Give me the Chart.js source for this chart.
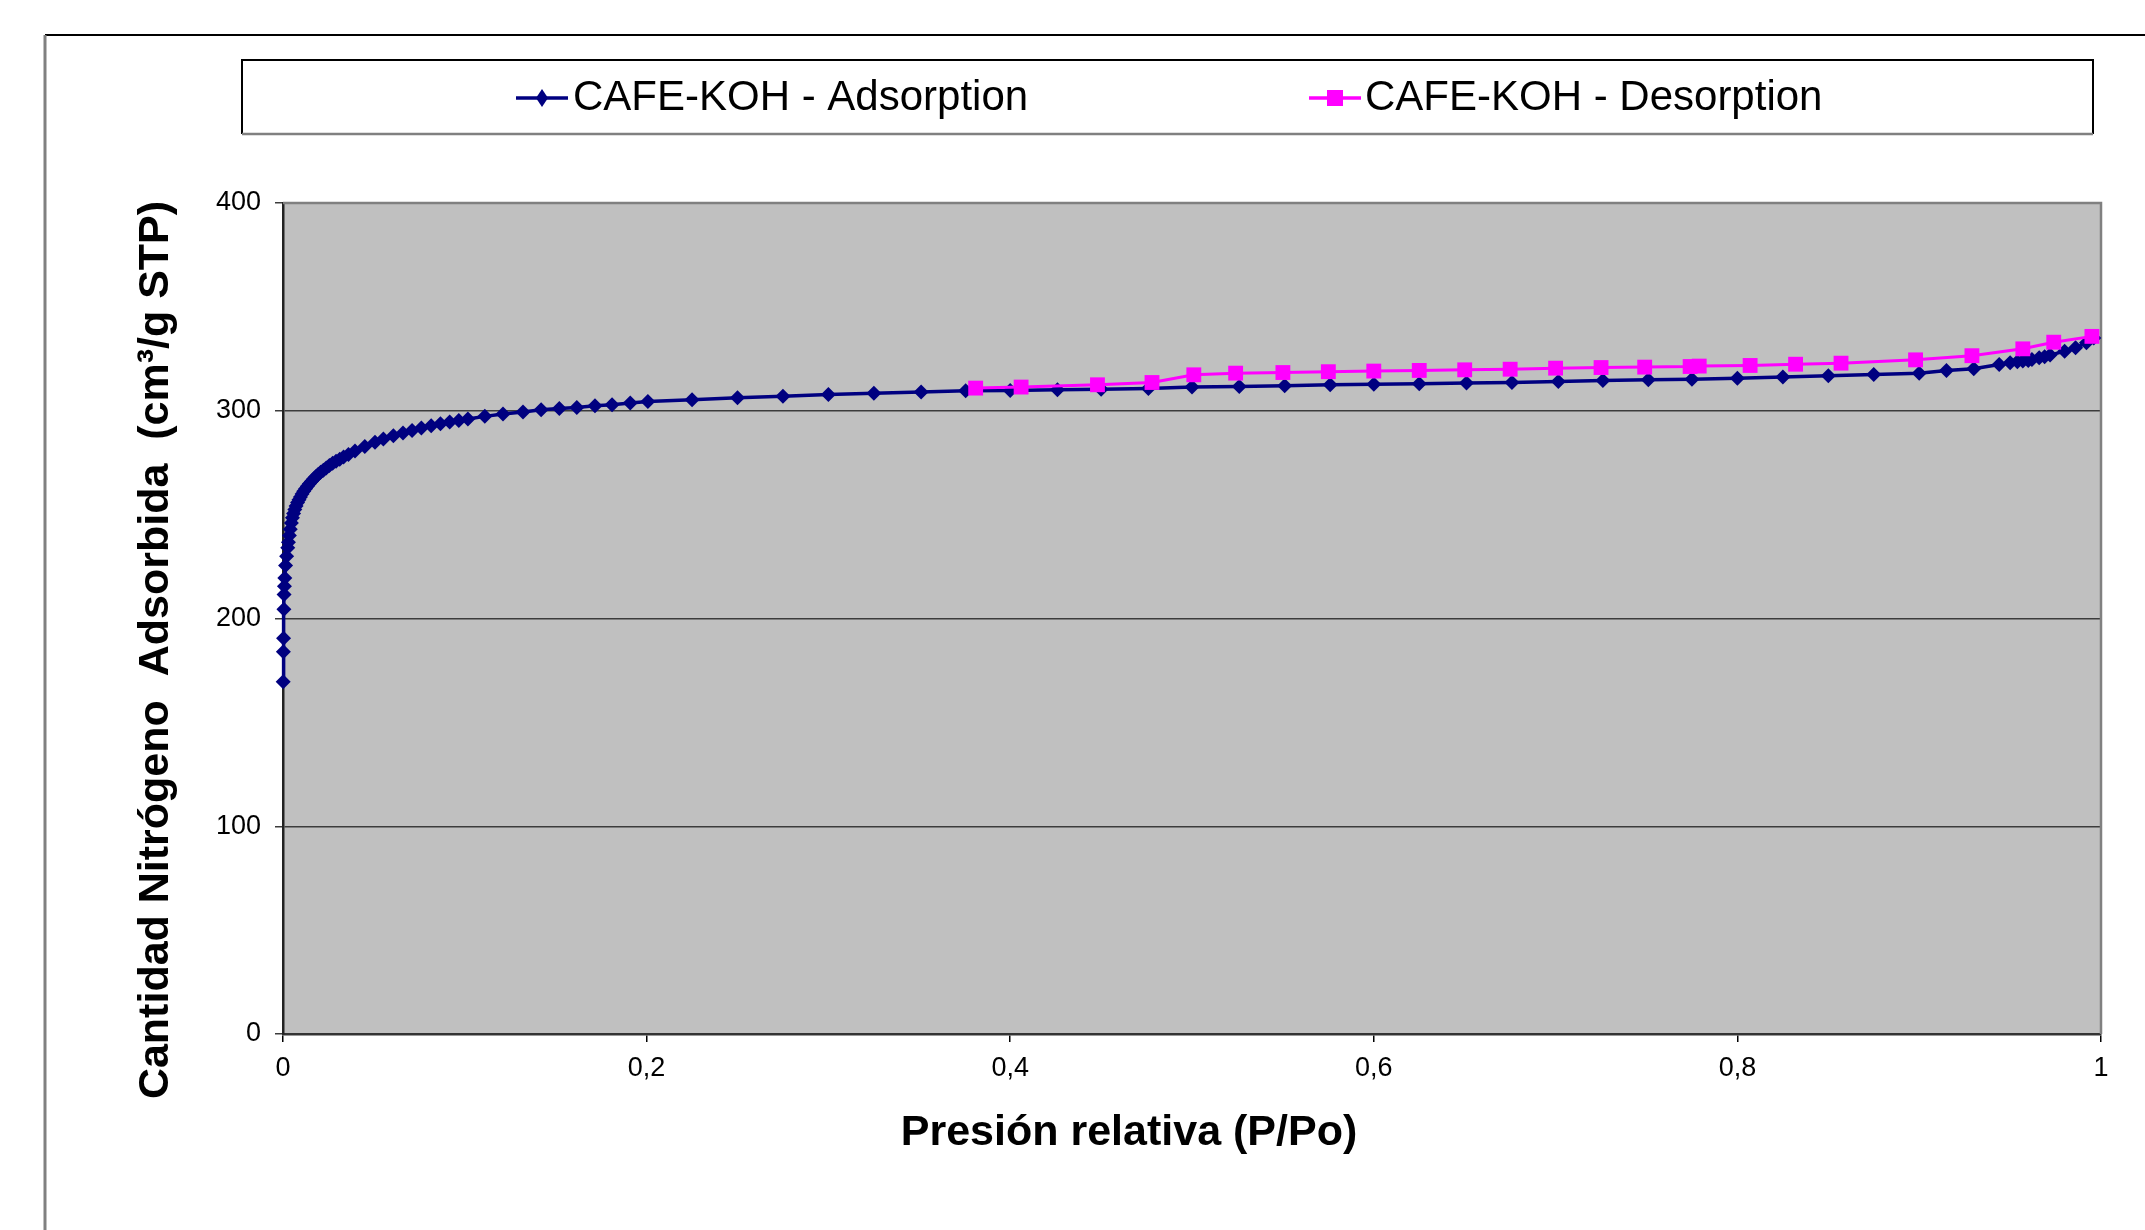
<!DOCTYPE html>
<html>
<head>
<meta charset="utf-8">
<script src="https://cdn.jsdelivr.net/npm/chart.js@4.4.0/dist/chart.umd.min.js"></script>
<style>
  html, body { margin: 0; padding: 0; background: #fff; }
  canvas { display: block; }
</style>
</head>
<body>
<canvas id="isoterma" width="2145" height="1230" style="width:2145px;height:1230px"></canvas>
<script>
// Adsorption branch (P/Po, cm3/g STP)
var adsP = [0.0001, 0.0002, 0.0003, 0.0005, 0.0006, 0.0008, 0.001, 0.0014, 0.002, 0.0026,
    0.003, 0.0035, 0.004, 0.0046, 0.0052, 0.0058, 0.0065, 0.0072, 0.008, 0.0088,
    0.0096, 0.0105, 0.0114, 0.0124, 0.0134, 0.0145, 0.0156, 0.0168, 0.018, 0.0193,
    0.0207, 0.0222, 0.0238, 0.0255, 0.0273, 0.0292, 0.0312, 0.0333, 0.036, 0.0396,
    0.045, 0.0506, 0.0552, 0.0607, 0.066, 0.071, 0.0761, 0.0815, 0.0866, 0.0917,
    0.0967, 0.1017, 0.111, 0.121, 0.132, 0.142, 0.152, 0.1616, 0.1716, 0.181,
    0.191, 0.2007, 0.225, 0.25, 0.275, 0.3, 0.325, 0.351, 0.3755, 0.4,
    0.426, 0.45, 0.476, 0.5, 0.526, 0.551, 0.576, 0.6, 0.625, 0.651,
    0.676, 0.7015, 0.726, 0.751, 0.775, 0.8, 0.825, 0.85, 0.875, 0.9,
    0.915, 0.93, 0.944, 0.95, 0.954, 0.957, 0.96, 0.962, 0.966, 0.969,
    0.972, 0.98, 0.986, 0.992, 0.996];
var adsV = [169.5, 184, 190.5, 204.5, 211.5, 215.5, 219.5, 225.5, 230, 234,
    236.7, 240, 243, 246, 248.5, 250.5, 252.5, 254.2, 255.8, 257.2,
    258.5, 259.9, 261.2, 262.5, 263.7, 264.9, 266, 267.1, 268.2, 269.3,
    270.4, 271.4, 272.5, 273.6, 274.7, 275.7, 276.7, 277.7, 279, 280.6,
    282.8, 284.8, 286.4, 288, 289.3, 290.5, 291.7, 292.8, 293.8, 294.6,
    295.3, 296, 297.3, 298.4, 299.4, 300.5, 301.1, 301.6, 302.4, 302.9,
    303.7, 304.5, 305.3, 306.3, 307, 307.8, 308.4, 309, 309.6, 309.8,
    310.1, 310.4, 310.7, 311.4, 311.7, 312, 312.5, 312.8, 313, 313.3,
    313.6, 314.1, 314.6, 314.9, 315.2, 315.7, 316.2, 316.8, 317.5, 318.1,
    319.4, 320.2, 322.3, 323.1, 323.6, 323.9, 324.2, 324.7, 325.5, 326,
    326.8, 328.7, 330.3, 332.7, 335];

// Desorption branch
var desP = [0.995, 0.974, 0.957, 0.929, 0.898, 0.857, 0.832, 0.807, 0.779, 0.774,
    0.749, 0.725, 0.7, 0.675, 0.65, 0.625, 0.6, 0.575, 0.55, 0.524,
    0.501, 0.478, 0.448, 0.406, 0.381];
var desV = [335.8, 333, 329.8, 326.5, 324.5, 322.9, 322.4, 321.8, 321.5, 321.3,
    321, 320.8, 320.5, 320, 319.7, 319.4, 319.1, 318.8, 318.4, 318.1,
    317.3, 313.6, 312.5, 311.4, 310.9];

var seriesNames = ['CAFE-KOH - Adsorption', 'CAFE-KOH - Desorption'];
var xTickVals = [0, 0.2, 0.4, 0.6, 0.8, 1];
var xTickLabels = ['0', '0,2', '0,4', '0,6', '0,8', '1'];
var yTickVals = [0, 100, 200, 300, 400];
var yTickLabels = ['0', '100', '200', '300', '400'];
var xTitle = 'Presión relativa (P/Po)';
var yTitle = 'Cantidad Nitrógeno  Adsorbida  (cm³/g STP)';

var NAVY = '#000080';
var MAGENTA = '#ff00ff';

function toPoints(xs, ys) {
    return xs.map(function (x, i) { return { x: x, y: ys[i] }; });
}

Chart.defaults.font.family = '"Liberation Sans", Arial, sans-serif';
Chart.defaults.color = '#000';

var decor = {
    id: 'decor',
    beforeDraw: function (chart) {
        var ctx = chart.ctx, a = chart.chartArea;
        ctx.save();
        ctx.fillStyle = '#fff';
        ctx.fillRect(0, 0, chart.width, chart.height);
        ctx.fillStyle = '#c0c0c0';
        ctx.fillRect(a.left, a.top, a.right - a.left, a.bottom - a.top);
        ctx.restore();
    },
    beforeDatasetsDraw: function (chart) {
        var ctx = chart.ctx, a = chart.chartArea;
        ctx.save();
        // top + right plot border (grey)
        ctx.strokeStyle = '#808080';
        ctx.lineWidth = 2.5;
        ctx.beginPath();
        ctx.moveTo(a.left, a.top);
        ctx.lineTo(a.right, a.top);
        ctx.lineTo(a.right, a.bottom);
        ctx.stroke();
        ctx.restore();
    },
    afterDraw: function (chart) {
        var ctx = chart.ctx;
        ctx.save();
        // outer frame
        ctx.lineWidth = 2;
        ctx.strokeStyle = '#000';
        ctx.beginPath();
        ctx.moveTo(45, 35);
        ctx.lineTo(2145, 35);
        ctx.stroke();
        ctx.strokeStyle = '#808080';
        ctx.lineWidth = 3;
        ctx.beginPath();
        ctx.moveTo(45, 35);
        ctx.lineTo(45, 1230);
        ctx.stroke();

        // legend box
        ctx.lineWidth = 2;
        ctx.strokeStyle = '#000';
        ctx.beginPath();
        ctx.moveTo(242, 134);
        ctx.lineTo(242, 60);
        ctx.lineTo(2093, 60);
        ctx.lineTo(2093, 134);
        ctx.stroke();
        ctx.strokeStyle = '#808080';
        ctx.lineWidth = 2.5;
        ctx.beginPath();
        ctx.moveTo(242, 134);
        ctx.lineTo(2093, 134);
        ctx.stroke();

        // legend entries
        var ly = 98;
        ctx.lineWidth = 3.5;
        ctx.strokeStyle = NAVY;
        ctx.beginPath(); ctx.moveTo(516, ly); ctx.lineTo(568, ly); ctx.stroke();
        ctx.fillStyle = NAVY;
        ctx.beginPath();
        ctx.moveTo(542, ly - 9); ctx.lineTo(548, ly); ctx.lineTo(542, ly + 9); ctx.lineTo(536, ly);
        ctx.closePath(); ctx.fill();

        ctx.strokeStyle = MAGENTA;
        ctx.beginPath(); ctx.moveTo(1309, ly); ctx.lineTo(1361, ly); ctx.stroke();
        ctx.fillStyle = MAGENTA;
        ctx.fillRect(1327, ly - 8, 16, 16);

        ctx.fillStyle = '#000';
        ctx.font = '42px "Liberation Sans", Arial, sans-serif';
        ctx.textAlign = 'left';
        ctx.textBaseline = 'middle';
        ctx.fillText(seriesNames[0], 573, ly);
        ctx.fillText(seriesNames[1], 1365, ly);

        // axis titles
        ctx.font = 'bold 43px "Liberation Sans", Arial, sans-serif';
        ctx.textAlign = 'center';
        ctx.fillText(xTitle, 1129, 1133);
        ctx.translate(156, 650);
        ctx.rotate(-Math.PI / 2);
        ctx.fillText(yTitle, 0, 0);
        ctx.restore();
    }
};

var ctx = document.getElementById('isoterma').getContext('2d');
var isoChart = new Chart(ctx, {
    type: 'line',
    data: {
        datasets: [{
            label: seriesNames[0],
            data: toPoints(adsP, adsV),
            borderColor: NAVY,
            backgroundColor: NAVY,
            borderWidth: 3.5,
            pointStyle: 'rectRot',
            pointRadius: 7.5,
            pointBorderWidth: 0,
            tension: 0,
            clip: false,
            order: 2
        },
        {
            label: seriesNames[1],
            data: toPoints(desP, desV),
            borderColor: MAGENTA,
            backgroundColor: MAGENTA,
            borderWidth: 3,
            pointStyle: 'rect',
            pointRadius: 10.5,
            pointBorderWidth: 0,
            tension: 0,
            clip: false,
            order: 1
        }]
    },
    options: {
        responsive: false,
        animation: false,
        devicePixelRatio: 1,
        layout: { padding: { left: 0, top: 203, right: 44, bottom: 0 } },
        plugins: {
            legend: { display: false },
            tooltip: { enabled: false }
        },
        scales: {
            x: {
                type: 'linear',
                min: 0,
                max: 1,
                afterBuildTicks: function (s) {
                    s.ticks = xTickVals.map(function (v) { return { value: v }; });
                },
                afterFit: function (s) { s.height = 196; },
                ticks: {
                    font: { size: 27 },
                    padding: 10,
                    maxRotation: 0,
                    callback: function (v, i) { return xTickLabels[i]; }
                },
                grid: { drawOnChartArea: false, tickLength: 8, color: '#000', lineWidth: 1.5 },
                border: { color: '#333', width: 2.5 }
            },
            y: {
                min: 0,
                max: 400,
                afterBuildTicks: function (s) {
                    s.ticks = yTickVals.map(function (v) { return { value: v }; });
                },
                afterFit: function (s) { s.width = 283; },
                ticks: {
                    font: { size: 27 },
                    padding: 14,
                    callback: function (v, i) { return yTickLabels[i]; }
                },
                grid: { color: '#3c3c3c', lineWidth: 1.5, tickLength: 8 },
                border: { color: '#222', width: 2.5 }
            }
        }
    },
    plugins: [decor]
});
</script>
</body>
</html>
